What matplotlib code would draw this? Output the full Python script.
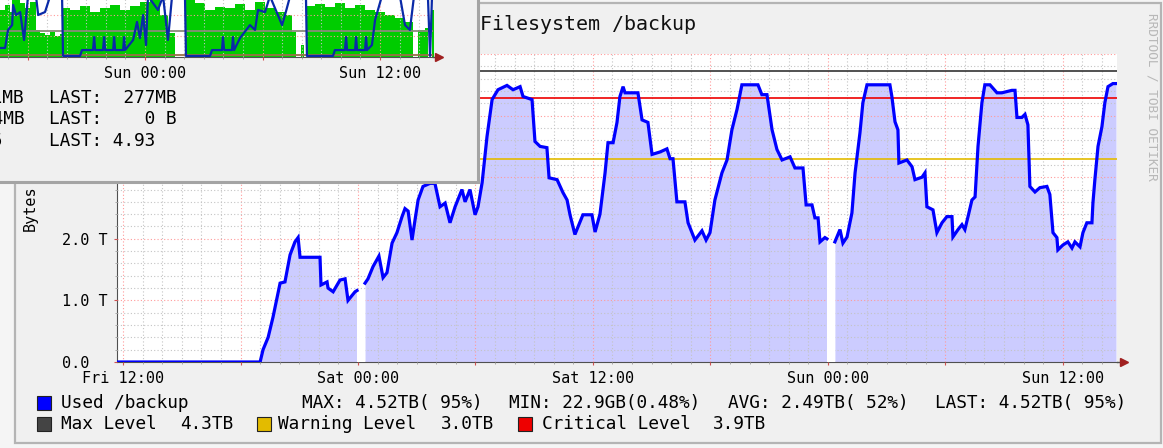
import numpy as np
import matplotlib
matplotlib.use("Agg")
import matplotlib.pyplot as plt
from matplotlib.patches import Rectangle
from matplotlib.ticker import MultipleLocator

plt.rcParams['font.family'] = ['DejaVu Sans Mono', 'DejaVu Sans']

# main graph: hours after Fri 12:00, used space in T
seg1_hours = [-0.31, 7.0, 7.15, 7.41, 7.66, 8.02, 8.27, 8.53, 8.78, 8.94, 9.04, 10.06,
              10.11, 10.42, 10.47, 10.73, 11.08, 11.34, 11.49, 11.85, 11.95]
seg1_used = [0.0, 0.0, 0.2, 0.4, 0.73, 1.28, 1.3, 1.74, 1.95, 2.02, 1.7, 1.7,
             1.25, 1.3, 1.2, 1.14, 1.33, 1.35, 1.0, 1.14, 1.16]

seg2_hours = [12.36, 12.51, 12.77, 13.07, 13.28, 13.48, 13.74, 13.99, 14.25, 14.40,
              14.56, 14.76, 14.91, 15.07, 15.32, 15.68, 15.93, 16.19, 16.45, 16.70,
              16.96, 17.31, 17.47, 17.72, 17.98, 18.13, 18.34, 18.59, 18.85, 19.15,
              19.61, 19.92, 20.28, 20.43, 20.89, 21.04, 21.30, 21.65, 21.76, 22.17,
              22.47, 22.68, 22.83, 23.08, 23.49, 23.95, 24.11, 24.36, 24.62, 24.77,
              25.03, 25.23, 25.38, 25.54, 25.64, 26.30, 26.51, 26.81, 27.02, 27.43,
              27.78, 27.94, 28.09, 28.29, 28.70, 28.86, 29.21, 29.57, 29.78, 29.98,
              30.23, 30.59, 30.85, 31.10, 31.36, 31.61, 32.43, 32.63, 32.89, 33.15,
              33.40, 33.66, 34.07, 34.32, 34.73, 34.89, 35.19, 35.34, 35.50, 35.60,
              35.85, 35.95]
seg2_used = [1.28, 1.35, 1.55, 1.72, 1.37, 1.45, 1.93, 2.1, 2.36, 2.49,
             2.45, 1.98, 2.3, 2.63, 2.85, 2.9, 2.9, 2.52, 2.58, 2.26,
             2.52, 2.8, 2.6, 2.8, 2.39, 2.52, 2.91, 3.66, 4.26, 4.42,
             4.49, 4.42, 4.47, 4.31, 4.26, 3.58, 3.5, 3.48, 2.99, 2.96,
             2.75, 2.63, 2.39, 2.07, 2.39, 2.39, 2.11, 2.4, 3.07, 3.56,
             3.56, 3.89, 4.31, 4.47, 4.37, 4.37, 3.93, 3.89, 3.37, 3.41,
             3.46, 3.3, 3.3, 2.6, 2.6, 2.26, 1.98, 2.13, 1.98, 2.1,
             2.63, 3.07, 3.28, 3.77, 4.1, 4.5, 4.5, 4.34, 4.34, 3.77,
             3.45, 3.28, 3.33, 3.15, 3.15, 2.55, 2.55, 2.34, 2.34, 1.95,
             2.02, 2.0]

seg3_hours = [36.36, 36.62, 36.77, 36.98, 37.23, 37.39, 37.64, 37.79, 38.0, 39.17,
              39.27, 39.43, 39.58, 39.63, 40.04, 40.30, 40.45, 40.81, 40.96, 41.06,
              41.37, 41.57, 41.83, 42.08, 42.34, 42.39, 42.65, 42.85, 43.0, 43.16,
              43.36, 43.52, 43.67, 43.87, 44.02, 44.28, 44.64, 44.89, 45.40, 45.56,
              45.66, 45.91, 46.07, 46.22, 46.32, 46.58, 46.83, 47.19, 47.34, 47.50,
              47.70, 47.75, 48.01, 48.26, 48.47, 48.62, 48.88, 49.03, 49.23, 49.49,
              49.54, 49.64, 49.80, 50.0, 50.15, 50.31, 50.56, 50.72]
seg3_used = [1.95, 2.15, 1.93, 2.03, 2.42, 3.07, 3.72, 4.21, 4.5, 4.5,
             4.31, 3.9, 3.77, 3.23, 3.28, 3.17, 2.96, 3.0, 3.07, 2.52,
             2.47, 2.1, 2.26, 2.36, 2.36, 2.03, 2.15, 2.23, 2.15, 2.36,
             2.63, 2.68, 3.5, 4.21, 4.5, 4.5, 4.37, 4.37, 4.41, 4.41,
             3.97, 3.97, 4.02, 3.85, 2.85, 2.76, 2.83, 2.85, 2.72, 2.1,
             2.02, 1.82, 1.9, 1.95, 1.85, 1.95, 1.87, 2.1, 2.26, 2.26,
             2.58, 2.96, 3.5, 3.82, 4.21, 4.47, 4.52, 4.52]

# unknown (no data) stretches
gap_start = [11.95, 35.95]
gap_end = [12.36, 36.36]
gap_top = [1.15, 1.98]

level_names = ["Max Level", "Warning Level", "Critical Level"]
level_tib = [4.3, 3.0, 3.9]

x_tick_labels = ["Fri 12:00", "Sat 00:00", "Sat 12:00", "Sun 00:00", "Sun 12:00"]
y_tick_labels = ["0.0  ", "1.0 T", "2.0 T", "3.0 T", "4.0 T", "5.0 T"]
stats_text = ["MAX: 4.52TB( 95%)", "MIN: 22.9GB(0.48%)", "AVG: 2.49TB( 52%)", "LAST: 4.52TB( 95%)"]

# overlapping window: hours after Sun 00:00
ovl_hours = [-7.41, -7.15, -6.9, -6.8, -6.38, -6.13, -5.87, -5.57, -5.36, -5.11,
             -4.85, -4.6, -4.34, -4.24, -4.19, -3.83, -3.32, -2.81, -2.3, -1.79,
             -1.28, -0.77, -0.26, 0.26, 0.77, 1.17, 1.53, 2.09, 2.55, 3.06,
             3.58, 4.09, 4.6, 5.11, 5.62, 6.13, 6.64, 7.15, 7.51, 7.71,
             7.97, 8.12, 8.27, 8.68, 9.19, 9.7, 10.21, 10.73, 11.24, 11.75,
             12.26, 12.77, 13.23, 13.69, 13.94, 14.3, 14.45, 14.66, 14.76]
ovl_traffic = [2.24, 2.48, 2.14, 2.9, 2.57, 2.33, 2.62, 1.29, 1.14, 1.05,
               1.19, 1.0, 1.1, 0.0, 2.33, 2.24, 2.43, 2.14, 2.33, 2.48,
               2.24, 2.43, 2.62, 2.9, 2.0, 1.14, 0.0, 2.9, 2.57, 2.24,
               2.38, 2.33, 2.52, 2.24, 2.62, 2.33, 2.14, 2.0, 1.19, 0.0,
               0.57, 0.0, 2.43, 2.52, 2.38, 2.57, 2.33, 2.48, 2.24, 2.14,
               2.0, 1.86, 1.67, 0.0, 1.29, 1.38, 0.0, 2.24, 2.24]
ovl_line_hours = [-7.41, -7.15, -7.0, -6.79, -6.74, -6.59, -6.38, -6.18, -5.98, -5.57,
                  -5.46, -5.11, -4.85, -4.24, -4.19, -3.32, -3.22, -2.66, -2.6, -2.55,
                  -2.15, -2.09, -2.04, -1.63, -1.58, -1.53, -1.12, -1.07, -1.02, -0.61,
                  -0.41, -0.26, -0.1, 0.05, 0.15, 0.66, 0.92, 1.17, 1.38, 2.04,
                  2.09, 3.32, 3.42, 3.93, 3.98, 4.04, 4.44, 4.49, 4.55, 4.85,
                  5.36, 5.62, 5.77, 6.13, 6.38, 7.0, 7.15, 7.41, 8.22, 8.27,
                  9.6, 9.7, 10.21, 10.27, 10.32, 10.73, 10.78, 10.83, 11.24, 11.29,
                  11.34, 11.59, 11.75, 12.1, 13.02, 13.28, 13.53, 13.74, 14.45, 14.56,
                  14.66, 14.76]
ovl_line = [0.43, 0.43, 1.29, 1.52, 2.48, 2.0, 2.14, 0.81, 2.9, 2.9,
            2.0, 2.14, 2.9, 2.9, 0.05, 0.05, 0.33, 0.33, 0.95, 0.33,
            0.33, 0.95, 0.33, 0.33, 0.95, 0.33, 0.33, 0.95, 0.33, 0.81,
            1.67, 0.9, 2.0, 0.57, 2.9, 2.24, 2.9, 0.81, 2.9, 2.9,
            0.05, 0.05, 0.33, 0.33, 0.95, 0.33, 0.33, 0.95, 0.33, 0.9,
            1.52, 1.29, 2.24, 2.14, 2.9, 1.52, 2.0, 2.9, 2.9, 0.05,
            0.05, 0.33, 0.33, 0.95, 0.33, 0.33, 0.95, 0.33, 0.33, 0.95,
            0.33, 0.57, 1.76, 2.9, 2.9, 1.52, 1.29, 2.9, 2.9, 0.05,
            2.9, 2.9]
ovl_rules = [1.24, 0.1]
ovl_tick_labels = ["Sun 00:00", "Sun 12:00"]
ovl_last = ["LAST:  277MB", "LAST:    0 B", "LAST: 4.93"]
ovl_cut = ["21MB", "44MB", "1.65"]

W, H = 1163, 448
fig = plt.figure(figsize=(W / 100, H / 100), dpi=100, facecolor='#f5f5f5')


def box(x0, y0, x1, y1):
    return [x0 / W, 1 - y1 / H, (x1 - x0) / W, (y1 - y0) / H]


def txt(x, y, s, **kw):
    kw.setdefault('va', 'center')
    return fig.text(x / W, 1 - y / H, s, **kw)


def square(x, y, color, z=3):
    fig.add_artist(Rectangle((x / W, 1 - (y + 14) / H), 14 / W, 14 / H,
                             transform=fig.transFigure, facecolor=color,
                             edgecolor='#222222', lw=0.8, zorder=z))


# main window
fig.add_artist(Rectangle((15 / W, 1 - 443 / H), 1146 / W, 440 / H, transform=fig.transFigure,
                         facecolor='#f0f0f0', edgecolor='#b4b4b4', lw=1.6, zorder=-5))

ax = fig.add_axes(box(117, 54, 1117, 362))
ax.set_zorder(1)
ax.set_facecolor('white')
for hh, vv in [(seg1_hours, seg1_used), (seg2_hours, seg2_used), (seg3_hours, seg3_used)]:
    ax.fill_between(hh, 0, vv, color='#ccccff', lw=0, zorder=1)
    ax.plot(hh, vv, color='#0000ff', lw=2.3, zorder=4, solid_joinstyle='miter')
for s, e, t in zip(gap_start, gap_end, gap_top):
    ax.fill_between([s, e], 0, [t, t], color='white', lw=0, zorder=2.7)

tib = 2 ** 40 / 1e12
for val, col in zip(level_tib, ['#333333', '#e3bb00', '#ee0000']):
    ax.axhline(val * tib, color=col, lw=1.2, zorder=3)

ax.set_xlim(-0.31, 50.77)
ax.set_ylim(0, 5.0)
ax.set_xticks(range(0, 49, 6), [x_tick_labels[i // 2] if i % 2 == 0 else "" for i in range(9)])
ax.set_yticks(range(6), y_tick_labels)
ax.xaxis.set_minor_locator(MultipleLocator(1))
ax.yaxis.set_minor_locator(MultipleLocator(0.2))
ax.set_axisbelow(False)
ax.grid(which='major', color='#ff9a9a', ls=(0, (1, 2)), lw=0.8)
ax.grid(which='minor', color='#c4c4c4', ls=(0, (1, 2)), lw=0.8)
ax.tick_params(which='major', length=2.5, color='#d05050', width=0.8, labelsize=10.9, pad=4.3)
ax.tick_params(which='minor', length=1.5, color='#a8a8a8', width=0.7)
for sp in ['top', 'right']:
    ax.spines[sp].set_visible(False)
for sp in ['left', 'bottom']:
    ax.spines[sp].set_color('#505050')
ax.plot([1.0, 1.006], [0, 0], transform=ax.transAxes, color='#505050', lw=1, clip_on=False)
ax.plot([1.007], [0], marker='>', ms=6, color='#a02020', transform=ax.transAxes, clip_on=False)

txt(588, 24, "Filesystem /backup", ha='center', fontsize=14.4, color='#111111', zorder=3)
txt(30, 208, "Bytes", ha='center', rotation=90, fontsize=10.9, zorder=3)
txt(1152, 97, "RRDTOOL / TOBI OETIKER", ha='center', rotation=270, fontsize=9.2,
    color='#b8b8b8', zorder=3)

# legend
square(37, 396, '#0000ff')
txt(61, 403, "Used /backup", fontsize=12.8, zorder=3)
for x, s in zip([302, 509, 728, 935], stats_text):
    txt(x, 403, s, fontsize=12.8, zorder=3)
square(37, 417, '#444444')
square(257, 417, '#e3bb00')
square(518, 417, '#ee0000')
txt(61, 424, level_names[0], fontsize=12.8, zorder=3)
txt(180, 424, f"{level_tib[0]:.1f}TB", fontsize=12.8, zorder=3)
txt(278, 424, level_names[1], fontsize=12.8, zorder=3)
txt(441, 424, f"{level_tib[1]:.1f}TB", fontsize=12.8, zorder=3)
txt(542, 424, level_names[2], fontsize=12.8, zorder=3)
txt(713, 424, f"{level_tib[2]:.1f}TB", fontsize=12.8, zorder=3)

# overlapping window
fig.add_artist(Rectangle((-10 / W, 1 - 182 / H), 488 / W, 192 / H, transform=fig.transFigure,
                         facecolor='#f0f0f0', edgecolor='#a4a4a4', lw=2.2, zorder=10))
ax2 = fig.add_axes(box(0, -20, 433, 57))
ax2.set_zorder(11)
ax2.set_facecolor('white')
ax2.fill_between(ovl_hours, 0, ovl_traffic, step='post', color='#00cc00', lw=0, zorder=1)
ax2.plot(ovl_line_hours, ovl_line, color='#0a2aa8', lw=1.6, zorder=4)
ax2.axhline(ovl_rules[0], color='#8a8a7a', lw=1.3, zorder=3)
ax2.axhline(ovl_rules[1], color='#9a7048', lw=1.3, zorder=3)
ax2.set_xlim(-7.41, 14.71)
ax2.set_ylim(0, 77 / 21)
ax2.set_xticks([-6, 0, 6, 12], ["", ovl_tick_labels[0], "", ovl_tick_labels[1]])
ax2.set_yticks([1, 2], [])
ax2.xaxis.set_minor_locator(MultipleLocator(1))
ax2.set_axisbelow(False)
ax2.grid(which='major', color='#ff9a9a', ls=(0, (1, 2)), lw=0.8)
ax2.grid(which='minor', axis='x', color='#c4c4c4', ls=(0, (1, 2)), lw=0.8)
ax2.tick_params(which='major', length=2.5, color='#d05050', width=0.8, labelsize=10.9, pad=4.3)
ax2.tick_params(axis='y', length=0)
ax2.tick_params(which='minor', length=1.5, color='#a8a8a8', width=0.7)
for sp in ['top', 'right', 'left']:
    ax2.spines[sp].set_visible(False)
ax2.spines['bottom'].set_color('#505050')
ax2.plot([1.0, 1.012], [0, 0], transform=ax2.transAxes, color='#505050', lw=1, clip_on=False)
ax2.plot([1.014], [0], marker='>', ms=6, color='#a02020', transform=ax2.transAxes, clip_on=False)

for y, s, c, cx in zip([98, 119, 141], ovl_last, ovl_cut, [24.5, 24.5, 3.5]):
    txt(49, y, s, fontsize=12.8, zorder=12)
    txt(cx, y, c, ha='right', fontsize=12.8, zorder=12)

fig.savefig("out.png", dpi=100, facecolor=fig.get_facecolor())
